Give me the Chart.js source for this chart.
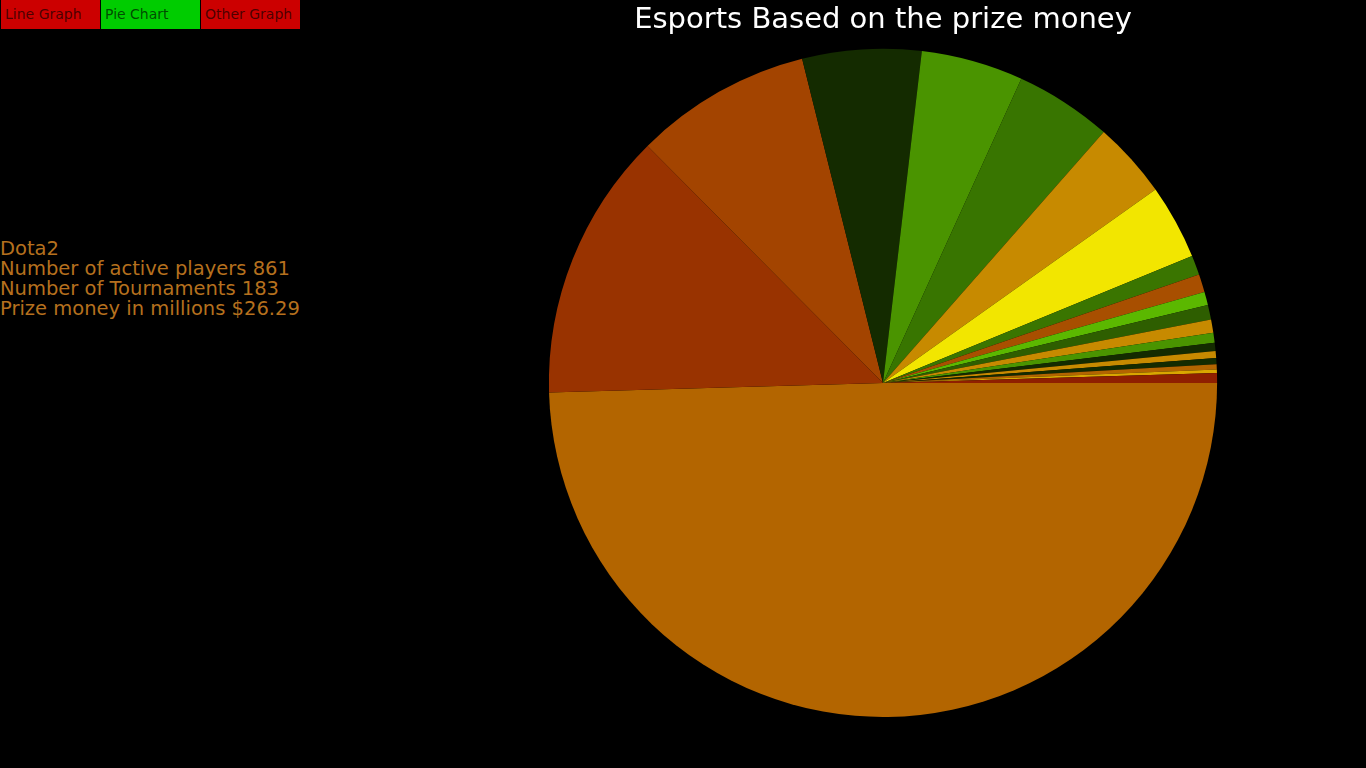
<!DOCTYPE html>
<html>
<head>
<meta charset="utf-8">
<script src="https://cdn.jsdelivr.net/npm/chart.js@4/dist/chart.umd.min.js"></script>
<style>
  html, body { margin: 0; padding: 0; background: #000; overflow: hidden; }
  body { width: 1366px; height: 768px; position: relative; font-family: "DejaVu Sans", sans-serif; }
  #chart { position: absolute; left: 0; top: 0; }
  .btn {
    position: absolute; top: 0; height: 30px;
    border: 1px solid #000; border-top: 0; box-sizing: border-box;
    font-size: 14px; line-height: 29px; padding-left: 4px;
    color: rgba(0,0,0,0.65);
  }
  #info {
    position: absolute; left: 0; top: 239px;
    font-size: 19.5px; line-height: 20px; color: rgb(181,112,30);
  }
</style>
</head>
<body>
<div class="btn" style="left:0; width:101px; background:#cc0000;">Line Graph</div>
<div class="btn" style="left:100px; width:101px; background:#00cc00;">Pie Chart</div>
<div class="btn" style="left:200px; width:101px; background:#cc0000;">Other Graph</div>
<div id="info">Dota2<br>Number of active players 861<br>Number of Tournaments 183<br>Prize money in millions $26.29</div>
<canvas id="chart" width="1366" height="768"></canvas>
<script>
// games (only Dota2 is named in the picture)
const games = ["Dota2", "Game 2", "Game 3", "Game 4", "Game 5", "Game 6", "Game 7",
  "Game 8", "Game 9", "Game 10", "Game 11", "Game 12", "Game 13", "Game 14",
  "Game 15", "Game 16", "Game 17", "Game 18", "Game 19", "Game 20"];

// prize money in millions
const prizeMoney = [26.29, 6.90, 4.54, 3.05, 2.62, 2.49, 1.96, 1.92, 0.50, 0.46,
  0.34, 0.38, 0.34, 0.25, 0.21, 0.18, 0.16, 0.13, 0.09, 0.25];

const sliceColors = ["#b36500", "#993300", "#a34400", "#142b00", "#4a9400", "#387500",
  "#c78a00", "#f2e600", "#3a7500", "#a84f00", "#5bb800", "#2e5e00", "#c78a00",
  "#4a9400", "#142b00", "#c78a00", "#142b00", "#b36500", "#d9a600", "#8f1f00"];

const ctx = document.getElementById('chart').getContext('2d');

new Chart(ctx, {
  type: 'pie',
  data: {
    labels: games,
    datasets: [{
      data: prizeMoney,
      backgroundColor: sliceColors,
      borderWidth: 0
    }]
  },
  options: {
    responsive: false,
    animation: false,
    devicePixelRatio: 1,
    rotation: 90, // start at 3 o'clock
    layout: {
      padding: { left: 400, right: 0, top: 0, bottom: 51 }
    },
    plugins: {
      legend: { display: false },
      tooltip: { enabled: false },
      title: {
        display: true,
        text: 'Esports Based on the prize money',
        color: '#ffffff',
        font: { size: 29, weight: 'normal', family: '"DejaVu Sans", sans-serif' },
        padding: { top: 3, bottom: 11 }
      }
    }
  }
});
</script>
</body>
</html>
